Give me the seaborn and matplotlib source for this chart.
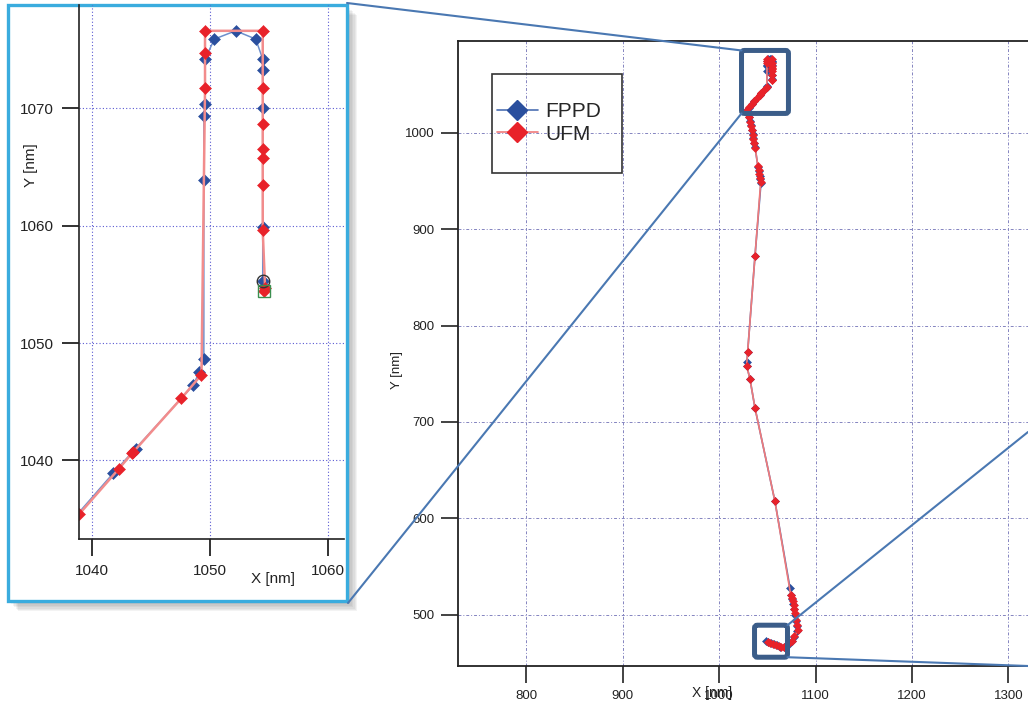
import matplotlib
matplotlib.use('Agg')

import matplotlib.pyplot as plt
import seaborn as sns
from matplotlib.lines import Line2D
from matplotlib.patches import Rectangle, FancyBboxPatch, ConnectionPatch

sns.set_theme(style='ticks')
plt.rcParams['font.family'] = ['Liberation Sans', 'DejaVu Sans']

# trajectories, bottom -> top, in nm
fppd_x = [1048.5, 1051.0, 1054.0, 1057.0, 1060.0, 1063.5, 1067.0, 1071.0, 1075.0, 1078.0,
          1081.0, 1080.5, 1079.5, 1078.5, 1077.5, 1076.5, 1075.5, 1074.5, 1073.4, 1057.8,
          1037.1, 1031.9, 1028.5, 1028.7, 1029.5, 1037.1, 1043.3, 1042.6, 1041.8, 1041.0,
          1040.2, 1037.1, 1036.3, 1035.4, 1034.5, 1033.6, 1032.7, 1031.9, 1031.0, 1029.3,
          1027.8, 1030.5, 1033.5, 1036.5, 1041.8, 1043.7, 1048.6, 1049.1, 1049.5,
          1049.5, 1049.5, 1049.6, 1049.6, 1050.4, 1052.2, 1053.9, 1054.5, 1054.5, 1054.5,
          1054.5, 1054.5]
fppd_y = [473.2, 472.0, 470.5, 469.5, 468.5, 467.0, 466.5, 469.0, 472.5, 477.0,
          483.0, 488.0, 494.0, 500.0, 506.0, 511.0, 516.0, 521.0, 527.8, 617.6,
          714.4, 744.4, 758.2, 762.0, 773.0, 872.2, 947.8, 951.5, 955.5, 960.0,
          964.4, 985.2, 989.5, 994.0, 998.5, 1003.0, 1007.5, 1012.0, 1016.5, 1020.0,
          1022.5, 1026.0, 1029.5, 1032.8, 1038.9, 1041.0, 1046.4, 1047.5, 1048.6,
          1063.9, 1069.3, 1070.4, 1074.2, 1075.9, 1076.6, 1075.9, 1074.2, 1073.3, 1070.0,
          1059.9, 1055.3]

ufm_x = [1050.6, 1053.0, 1056.0, 1059.0, 1062.0, 1064.5, 1067.5, 1071.0, 1075.2, 1078.0,
         1082.0, 1080.5, 1079.3, 1078.6, 1078.0, 1077.3, 1076.5, 1075.8, 1074.1, 1057.8,
         1037.1, 1031.9, 1028.4, 1029.5, 1037.1, 1043.0, 1042.4, 1041.6, 1040.8, 1040.0,
         1037.3, 1036.4, 1035.5, 1034.6, 1033.7, 1032.8, 1032.0, 1031.2, 1029.5, 1028.0,
         1031.0, 1034.0, 1036.5, 1038.9, 1042.3, 1043.4, 1043.5, 1047.6, 1049.3, 1049.6,
         1049.6, 1049.6, 1054.5, 1054.5, 1054.5, 1054.5, 1054.5, 1054.5, 1054.5, 1054.7,
         1054.6]
ufm_y = [472.2, 471.0, 469.5, 468.5, 467.5, 466.5, 467.0, 469.5, 472.5, 478.0,
         484.6, 490.0, 495.0, 502.2, 506.0, 510.0, 514.0, 517.5, 520.9, 617.6,
         714.4, 744.4, 758.5, 773.0, 872.2, 948.5, 952.5, 957.0, 961.5, 965.5,
         984.5, 989.0, 993.5, 998.0, 1002.5, 1007.0, 1011.5, 1016.0, 1019.5, 1022.0,
         1026.5, 1030.0, 1032.5, 1035.4, 1039.3, 1040.6, 1040.7, 1045.3, 1047.3, 1071.7,
         1074.7, 1076.6, 1076.6, 1071.7, 1068.7, 1066.5, 1065.8, 1063.5, 1059.6, 1054.7,
         1054.4]

labels = ['FPPD', 'UFM']
mark_colors = ['#2a4f9e', '#e8222a']
line_colors = ['#4d6fb3', '#f07a7a']

# zoom regions drawn as boxes on the main plot (x0, x1, y0, y1)
top_zoom = (1023.1, 1071.8, 1019.9, 1085.2)
bottom_zoom = (1036.6, 1070.8, 456.1, 489.3)

W, H = 1028, 707
fig = plt.figure(figsize=(W / 100, H / 100), dpi=100)


def fx(px):
    return px / W


def fy(py):
    return 1 - py / H


# ---------- main plot ----------
ax = fig.add_axes([fx(458), fy(666), 589 / W, 625 / H])
ax.set_xlim(729, 1340)
ax.set_ylim(447, 1095)

for xs, ys, lc, mc in [(fppd_x, fppd_y, line_colors[0], mark_colors[0]),
                       (ufm_x, ufm_y, line_colors[1], mark_colors[1])]:
    sns.lineplot(x=xs, y=ys, sort=False, estimator=None, ax=ax, color=lc, lw=1.2,
                 marker='D', markersize=4.3, markerfacecolor=mc, markeredgecolor=mc,
                 markeredgewidth=0.4, legend=False)

ax.set_xticks([800, 900, 1000, 1100, 1200, 1300])
ax.set_yticks([500, 600, 700, 800, 900, 1000])
ax.grid(True, color='#8484c0', linestyle=(0, (3, 2, 1, 2)), lw=0.7)
ax.tick_params(direction='out', length=12, width=1.2, pad=5, labelsize=9.5,
               colors='#222222')
for s in ['left', 'top', 'bottom']:
    ax.spines[s].set_color('#222222')
    ax.spines[s].set_linewidth(1.3)
ax.spines['right'].set_visible(False)
ax.set_xlabel('X [nm]', fontsize=10, color='#222222')
ax.set_ylabel('Y [nm]', fontsize=9.5, color='#222222')
ax.xaxis.set_label_coords((712 - 458) / 589, -(686 - 666) / 625)
ax.yaxis.set_label_coords(-(458 - 403) / 589, (666 - 370) / 625)

for x0, x1, y0, y1 in [top_zoom, bottom_zoom]:
    ax.add_patch(FancyBboxPatch((x0, y0), x1 - x0, y1 - y0,
                                boxstyle='round,pad=0,rounding_size=3',
                                fill=False, ec='#3b5d89', lw=3.6, zorder=5,
                                clip_on=False))

handles = [Line2D([], [], color=line_colors[i], lw=1.2, marker='D', markersize=10,
                  markerfacecolor=mark_colors[i], markeredgecolor=mark_colors[i])
           for i in range(2)]
ax.legend(handles, labels, loc='center', bbox_to_anchor=((549 - 458) / 589, (666 - 123) / 625),
          frameon=False, fontsize=15, handlelength=2.0, handletextpad=0.35,
          labelspacing=0.15)
ax.add_patch(Rectangle(((492 - 458) / 589, (666 - 173) / 625), 130 / 589, 99 / 625,
                       transform=ax.transAxes, fill=False, ec='#333333', lw=1.2,
                       zorder=6))

# ---------- inset panel ----------
for k in range(7):
    off = 2 + k * 1.4
    fig.add_artist(Rectangle((fx(8 + off), fy(601 + off)), 339 / W, 596 / H,
                             transform=fig.transFigure, fc='#555555', ec='none',
                             alpha=0.07, zorder=-3))
fig.add_artist(Rectangle((fx(8), fy(601)), 339 / W, 596 / H, transform=fig.transFigure,
                         fc='white', ec='#3aacde', lw=2.4, zorder=-2))

axi = fig.add_axes([fx(79), fy(539), 265 / W, 534 / H])
axi.set_facecolor('none')
axi.set_xlim(1038.9, 1061.4)
axi.set_ylim(1033.3, 1078.8)
for xs, ys, lc, mc, lw in [(fppd_x, fppd_y, '#6d8fcc', mark_colors[0], 1.1),
                           (ufm_x, ufm_y, '#f28c8c', mark_colors[1], 1.8)]:
    sns.lineplot(x=xs, y=ys, sort=False, estimator=None, ax=axi, color=lc, lw=lw,
                 marker='D', markersize=5.8, markerfacecolor=mc, markeredgecolor=mc,
                 markeredgewidth=0.4, legend=False)
axi.plot(fppd_x[-1], fppd_y[-1], 'o', ms=9, mfc='none', mec='#333333', mew=1.0)
axi.plot(ufm_x[-1], ufm_y[-1], 's', ms=9, mfc='none', mec='#3c8f50', mew=1.0)

axi.set_xticks([1040, 1050, 1060])
axi.set_yticks([1040, 1050, 1060, 1070])
axi.grid(True, color='#5a5ad2', linestyle=(0, (1, 2)), lw=0.8)
axi.tick_params(direction='out', length=12, width=1.3, pad=6, labelsize=11,
                colors='#222222')
for s in ['left', 'bottom']:
    axi.spines[s].set_color('#222222')
    axi.spines[s].set_linewidth(1.2)
for s in ['top', 'right']:
    axi.spines[s].set_visible(False)
axi.set_xlabel('X [nm]', fontsize=11, color='#222222')
axi.set_ylabel('Y [nm]', fontsize=11, color='#222222')
axi.xaxis.set_label_coords((273 - 79) / 265, -(572 - 539) / 534)
axi.yaxis.set_label_coords(-(79 - 38) / 265, (539 - 165) / 534)

# ---------- connector lines ----------
conn = dict(color='#4a78b2', lw=1.5, zorder=4)
tx0, tx1, ty0, ty1 = top_zoom
bx0, bx1, by0, by1 = bottom_zoom
fig.add_artist(ConnectionPatch((fx(347), fy(3)), (tx0, ty1), 'figure fraction',
                               ax.transData, **conn))
fig.add_artist(ConnectionPatch((fx(348), fy(603)), (tx0, ty0), 'figure fraction',
                               ax.transData, **conn))
fig.add_artist(ConnectionPatch((bx1, by1), (1.0, fy(432)), ax.transData,
                               'figure fraction', **conn))
fig.add_artist(ConnectionPatch((bx1, by0), (1.0, fy(666)), ax.transData,
                               'figure fraction', **conn))

fig.savefig('out.png', dpi=100)
